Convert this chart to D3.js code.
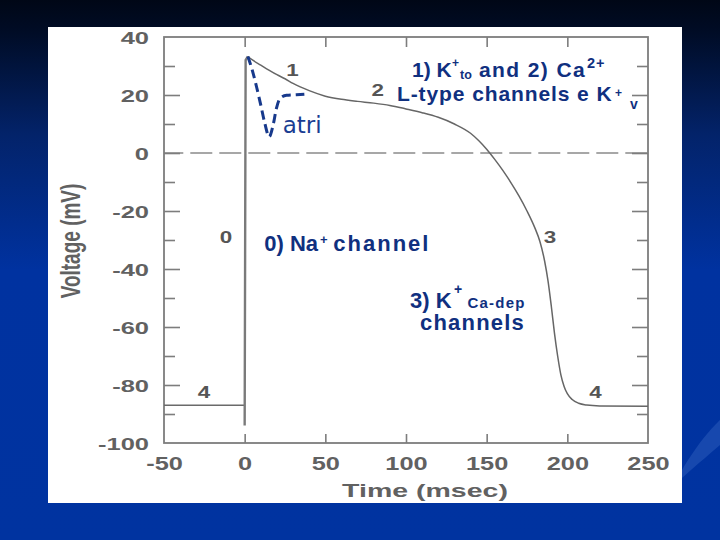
<!DOCTYPE html>
<html>
<head>
<meta charset="utf-8">
<script src="https://cdn.jsdelivr.net/npm/d3@7"></script>
<style>
  html, body { margin: 0; padding: 0; background: #0033a0; }
  svg { display: block; }
</style>
</head>
<body>
<svg id="chart" width="720" height="540"></svg>
<script>
// ---------------- DATA ----------------
// Phase 4 resting potential (before stimulus)
const restT = [-50, 0];
const restV = [-87, -87];
// Phase 0 upstroke
const upT = [0, 0.6, 2];
const upV = [-94, 32, 33.3];
// Ventricular action potential, phases 1-4
const apT = [2, 5, 10, 15, 20, 25, 30, 40, 50, 60, 70, 80, 90, 100, 110, 120, 130, 140, 145, 150,
             155, 160, 165, 170, 175, 180, 183, 186, 188, 190, 192, 194, 196, 198, 200, 203, 207, 212, 220, 250];
const apV = [33.3, 32, 30.3, 28.6, 27, 25.6, 24, 21.5, 19.6, 18.5, 17.8, 17.2, 16.4, 15.2, 13.9, 12.3, 10, 6.8, 4.3, 1.3,
             -2.2, -6, -10.2, -14.8, -20, -26, -30.5, -37.5, -44, -52.5, -62, -70, -76.5, -80.5, -83, -85, -86.3, -86.9, -87.2, -87.3];
// Atrial action potential (dashed overlay, early part)
const atriT = [2, 5, 7.5, 10, 12.5, 15.2, 17.7, 19.6, 21.9, 26, 32, 37];
const atriV = [33.3, 28, 22.5, 16.5, 10.2, 5.6, 9.8, 15.2, 18.8, 19.9, 20.1, 20.3];
// Axis ticks
const yTickLabels = [-100, -80, -60, -40, -20, 0, 20, 40];
const yMajorTicks = [-80, -60, -40, -20, 0, 20];
const yMinorTicks = [-90, -70, -50, -30, -10, 10, 30];
const xTickLabels = [-50, 0, 50, 100, 150, 200, 250];
const xInnerTicks = [0, 50, 100, 150, 200];
const xTitle = "Time (msec)";
const yTitle = "Voltage (mV)";
// Phase numbers on the curve
const phaseLabels = ["1", "2", "0", "3", "4", "4"];

// ---------------- LAYOUT ----------------
const svg = d3.select("#chart");
const BLUE = "#10307f";
const GRAY = "#616161";
const FRAME = "#7d7d7d";

const defs = svg.append("defs");
const bg = defs.append("linearGradient").attr("id", "bg")
  .attr("x1", 0).attr("y1", 0).attr("x2", 0).attr("y2", 1);
[["0%", "#000716"], ["6%", "#000c26"], ["25%", "#03236a"], ["50%", "#0032a0"], ["100%", "#0033a0"]]
  .forEach(([o, c]) => bg.append("stop").attr("offset", o).attr("stop-color", c));
svg.append("rect").attr("width", 720).attr("height", 540).attr("fill", "url(#bg)");
// faint swoosh on the right
svg.append("path")
  .attr("d", "M682,470 C700,440 712,428 720,420 L720,445 C712,452 700,462 682,478 Z")
  .attr("fill", "#3a68c4").attr("opacity", 0.4);

// white panel
svg.append("rect").attr("x", 48).attr("y", 27).attr("width", 634).attr("height", 476).attr("fill", "#ffffff");

const x = d3.scaleLinear().domain([-50, 250]).range([164, 648]);
const y = d3.scaleLinear().domain([-100, 40]).range([443, 37]);

// zero dashed line
svg.append("line")
  .attr("x1", x(-50)).attr("x2", x(250)).attr("y1", y(0)).attr("y2", y(0))
  .attr("stroke", "#8a8a8a").attr("stroke-width", 1.5)
  .attr("stroke-dasharray", "22,7").attr("stroke-dashoffset", 2.7);

// inward ticks
function styleTicks(g) {
  g.select(".domain").remove();
  g.selectAll(".tick line").attr("stroke", FRAME).attr("stroke-width", 1.6);
  g.selectAll(".tick text").remove();
}
svg.append("g").attr("transform", `translate(${x(-50)},0)`)
  .call(d3.axisRight(y).tickValues(yMajorTicks).tickSize(16)).call(styleTicks);
svg.append("g").attr("transform", `translate(${x(-50)},0)`)
  .call(d3.axisRight(y).tickValues(yMinorTicks).tickSize(11)).call(styleTicks);
svg.append("g").attr("transform", `translate(${x(250)},0)`)
  .call(d3.axisLeft(y).tickValues(yMajorTicks).tickSize(16)).call(styleTicks);
svg.append("g").attr("transform", `translate(${x(250)},0)`)
  .call(d3.axisLeft(y).tickValues(yMinorTicks).tickSize(11)).call(styleTicks);
svg.append("g").attr("transform", `translate(0,${y(40)})`)
  .call(d3.axisBottom(x).tickValues(xInnerTicks).tickSize(10)).call(styleTicks);
svg.append("g").attr("transform", `translate(0,${y(-100)})`)
  .call(d3.axisTop(x).tickValues(xInnerTicks).tickSize(9)).call(styleTicks);

// frame
svg.append("rect")
  .attr("x", x(-50)).attr("y", y(40))
  .attr("width", x(250) - x(-50)).attr("height", y(-100) - y(40))
  .attr("fill", "none").attr("stroke", FRAME).attr("stroke-width", 1.8);

// tick labels (horizontally stretched, as in the original figure)
const FONT = "'Liberation Sans', Arial, Helvetica, sans-serif";
const yAx = svg.append("g").attr("transform", `translate(${x(-50)},0)`)
  .call(d3.axisLeft(y).tickValues(yTickLabels).tickSize(0).tickFormat(d => String(d)));
yAx.select(".domain").remove();
yAx.selectAll(".tick text")
  .attr("x", 0).attr("dy", null).attr("y", 0)
  .attr("text-anchor", "end")
  .attr("transform", "translate(-15,6) scale(1.5,1)")
  .attr("fill", GRAY).style("font-family", FONT).style("font-weight", "bold").style("font-size", "17px");

const xAx = svg.append("g").attr("transform", `translate(0,${y(-100)})`)
  .call(d3.axisBottom(x).tickValues(xTickLabels).tickSize(0).tickFormat(d => String(d)));
xAx.select(".domain").remove();
xAx.selectAll(".tick text")
  .attr("y", 0).attr("dy", null)
  .attr("text-anchor", "middle")
  .attr("transform", "translate(0,27) scale(1.45,1)")
  .attr("fill", GRAY).style("font-family", FONT).style("font-weight", "bold").style("font-size", "17.5px");

// axis titles
svg.append("text")
  .attr("transform", "translate(425,497) scale(1.5,1)")
  .attr("text-anchor", "middle")
  .attr("fill", GRAY).style("font-family", FONT).style("font-weight", "bold").style("font-size", "19px")
  .text(xTitle);
svg.append("text")
  .attr("transform", "translate(80,241) rotate(-90) scale(1,1.5)")
  .attr("text-anchor", "middle")
  .attr("fill", GRAY).style("font-family", FONT).style("font-weight", "bold").style("font-size", "19px")
  .text(yTitle);

// ---------------- CURVES ----------------
const zip = (ts, vs) => ts.map((t, i) => ({ t, v: vs[i] }));
const lineLin = d3.line().x(d => x(d.t)).y(d => y(d.v));
const lineSmooth = d3.line().x(d => x(d.t)).y(d => y(d.v)).curve(d3.curveMonotoneX);

svg.append("path").attr("d", lineLin(zip(restT, restV)))
  .attr("fill", "none").attr("stroke", "#6a6a6a").attr("stroke-width", 1.4);
svg.append("path").attr("d", lineLin(zip(upT, upV)))
  .attr("fill", "none").attr("stroke", "#7a7a7a").attr("stroke-width", 2.4);
svg.append("path").attr("d", lineSmooth(zip(apT, apV)))
  .attr("fill", "none").attr("stroke", "#666666").attr("stroke-width", 1.5);
svg.append("path").attr("d", lineSmooth(zip(atriT, atriV)))
  .attr("fill", "none").attr("stroke", "#17398c").attr("stroke-width", 3)
  .attr("stroke-dasharray", "9,5");

// ---------------- LABELS ----------------
// phase numbers: positions in data units
const phasePos = [[29.6, 26.4], [82.5, 19.5], [-11.6, -31], [189.3, -31], [-25.2, -84.5], [217.5, -84.5]];
phaseLabels.forEach((lab, i) => {
  const [t, v] = phasePos[i];
  svg.append("text")
    .attr("transform", `translate(${x(t)},${y(v)}) scale(1.4,1)`)
    .attr("text-anchor", "middle")
    .attr("fill", "#555").style("font-family", FONT).style("font-weight", "bold").style("font-size", "16px")
    .text(lab);
});

// rich annotation: one <text> with positioned <tspan> pieces
function rich(pieces, opts = {}) {
  const t = svg.append("text")
    .attr("fill", opts.fill || BLUE)
    .style("font-family", opts.family || FONT)
    .style("font-weight", opts.weight || "bold");
  pieces.forEach(p => {
    const s = t.append("tspan").attr("x", p[1]).attr("y", p[2]).style("font-size", p[3] + "px").text(p[0]);
    if (p[4]) s.style("letter-spacing", p[4] + "px");
  });
  return t;
}
// 1) K+to and 2) Ca2+
rich([["1) K", 412, 76.7, 21], ["+", 452, 67, 12], ["to", 460, 79, 12.5],
      ["and 2) Ca", 479, 76.7, 21, 1.4], ["2+", 587, 68, 14.5, 1]]);
// L-type channels e K+v
rich([["L-type channels e K", 397, 101, 21, 0.9], ["+", 615, 96.5, 12], ["v", 630, 108.5, 14]]);
// 0) Na+ channel
rich([["0) Na", 264.3, 251, 22], ["+", 320, 243.5, 13], ["channel", 333.3, 251, 22, 2]]);
// 3) K+Ca-dep channels
rich([["3) K", 410, 308, 22], ["+", 454, 294, 14], ["Ca-dep", 467.5, 307.5, 15, 1.2],
      ["channels", 420, 330, 22, 1.2]]);
// atri
rich([["atri", 282.7, 132.5, 23]], { weight: "normal", family: "'DejaVu Sans', sans-serif", fill: "#1a3d92" });
</script>
</body>
</html>
